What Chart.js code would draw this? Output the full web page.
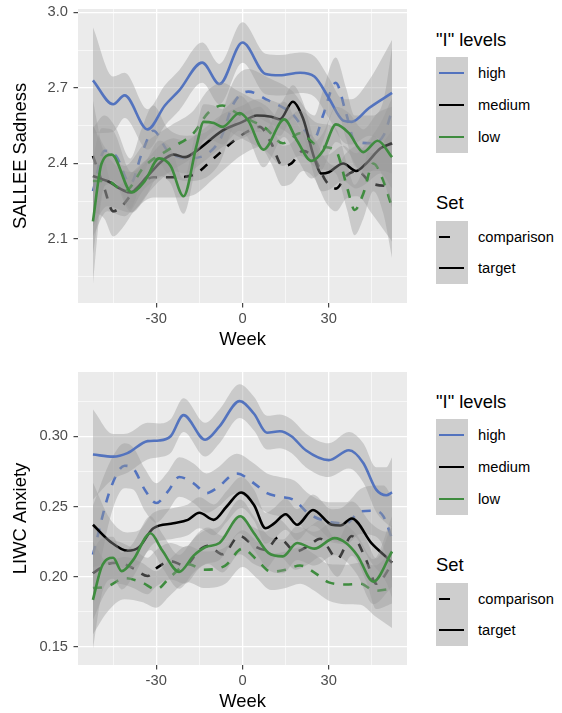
<!DOCTYPE html>
<html><head><meta charset="utf-8">
<script src="https://cdn.jsdelivr.net/npm/chart.js@4.4.1/dist/chart.umd.min.js"></script>
<style>
html,body{margin:0;padding:0;background:#fff;}
#wrap{position:relative;width:562px;height:713px;overflow:hidden;font-family:"Liberation Sans",Arial,Helvetica,sans-serif;}
canvas{position:absolute;left:0;}
.lt{position:absolute;left:436px;font-size:18.4px;line-height:22px;height:22px;color:#000;white-space:nowrap;}
.lb{position:absolute;left:478px;font-size:14.7px;line-height:18px;height:18px;color:#000;white-space:nowrap;}
.kb{position:absolute;left:436px;width:32px;background:#CECECE;}
.kl{position:absolute;height:2.6px;}
</style></head><body><div id="wrap">
<canvas id="c1" width="410" height="356" style="top:0px"></canvas>
<canvas id="c2" width="410" height="357" style="top:356px"></canvas>
</div>
<script>
// ---------- tick values ----------
const weekMajor = [-30, 0, 30];
const weekMinor = [-45, -15, 15, 45];
const sadMajor = [2.1, 2.4, 2.7, 3.0];
const sadMinor = [1.95, 2.25, 2.55, 2.85];
const anxMajor = [0.15, 0.20, 0.25, 0.30];
const anxMinor = [0.175, 0.225, 0.275, 0.325];

const levels = ['high', 'medium', 'low'];
const sets = ['comparison', 'target'];

// ---------- Panel 1: SALLEE Sadness ----------
const sad_high_comparison_wk = [-52,-48,-44,-39,-35,-31,-26,-19,-8,-3,2,9,17,25,28,32.4,36,39,45,49,52];
const sad_high_comparison    = [2.29,2.45,2.43,2.32,2.44,2.53,2.45,2.42,2.49,2.64,2.685,2.65,2.60,2.50,2.59,2.72,2.60,2.49,2.48,2.51,2.61];
const sad_high_comparison_se = [0.25,0.14,0.11,0.1,0.1,0.1,0.09,0.09,0.09,0.09,0.09,0.09,0.09,0.09,0.1,0.1,0.1,0.1,0.11,0.14,0.25];

const sad_high_target_wk = [-52,-45,-41,-33,-27,-22,-14,-8,0,8,13,20,25,30,35,38,44,52];
const sad_high_target    = [2.73,2.635,2.67,2.535,2.63,2.69,2.80,2.715,2.88,2.755,2.75,2.76,2.745,2.66,2.57,2.565,2.62,2.68];
const sad_high_target_se = [0.21,0.11,0.09,0.08,0.08,0.08,0.08,0.08,0.08,0.08,0.08,0.08,0.08,0.08,0.085,0.09,0.11,0.21];

const sad_medium_comparison_wk = [-52,-48,-45,-42,-37,-31,-24,-17,-10,-3,1.5,6,10,14,17,21,25,29,32.5,36,40,45,52];
const sad_medium_comparison    = [2.43,2.30,2.21,2.23,2.30,2.345,2.345,2.355,2.42,2.49,2.525,2.545,2.48,2.39,2.40,2.45,2.42,2.33,2.30,2.35,2.37,2.32,2.31];
const sad_medium_comparison_se = [0.22,0.12,0.1,0.09,0.08,0.08,0.08,0.08,0.08,0.08,0.08,0.08,0.08,0.08,0.08,0.08,0.08,0.085,0.09,0.09,0.1,0.12,0.22];

const sad_medium_target_wk = [-52,-47,-39,-33,-28,-24,-20,-16,-7,0,5,10,13,17.5,21,25,27.5,30,35,39.5,43,48,52];
const sad_medium_target    = [2.35,2.33,2.285,2.35,2.41,2.435,2.425,2.45,2.53,2.565,2.59,2.585,2.575,2.645,2.58,2.42,2.36,2.365,2.40,2.37,2.40,2.46,2.48];
const sad_medium_target_se = [0.2,0.1,0.08,0.07,0.07,0.065,0.065,0.065,0.065,0.065,0.065,0.065,0.065,0.065,0.065,0.07,0.07,0.07,0.07,0.07,0.08,0.1,0.18];

const sad_low_comparison_wk = [-52,-47,-41,-34,-25,-17,-12,-7,-2,3,8,14,20,26,31,33,36.5,39,42,45.5,49,52];
const sad_low_comparison    = [2.33,2.33,2.29,2.39,2.46,2.52,2.60,2.63,2.60,2.57,2.54,2.48,2.52,2.47,2.46,2.44,2.30,2.215,2.28,2.40,2.33,2.225];
const sad_low_comparison_se = [0.22,0.12,0.1,0.09,0.09,0.09,0.09,0.09,0.09,0.09,0.09,0.09,0.09,0.09,0.09,0.09,0.09,0.1,0.1,0.11,0.13,0.2];

const sad_low_target_wk = [-52,-49,-45.5,-38.5,-34,-29,-25,-20.5,-16,-13.5,-10,-7,-1,2,7.3,14.5,19,24,28,32.5,37,42,47,52];
const sad_low_target    = [2.17,2.40,2.435,2.285,2.33,2.42,2.39,2.27,2.47,2.565,2.56,2.545,2.60,2.57,2.455,2.575,2.49,2.41,2.45,2.555,2.52,2.445,2.49,2.425];
const sad_low_target_se = [0.25,0.14,0.1,0.08,0.07,0.07,0.07,0.07,0.07,0.07,0.07,0.07,0.07,0.07,0.07,0.07,0.07,0.07,0.07,0.07,0.08,0.09,0.11,0.2];

// ---------- Panel 2: LIWC Anxiety ----------
const anx_high_comparison_wk = [-52,-46,-41,-38,-34,-30,-26,-22,-17,-12.5,-9,-2,4,8.5,13,18,23,30,36,41,46,49,52];
const anx_high_comparison    = [0.2157,0.262,0.279,0.277,0.262,0.2525,0.2605,0.271,0.2665,0.2595,0.263,0.2735,0.2665,0.2595,0.257,0.2545,0.245,0.239,0.238,0.2465,0.247,0.243,0.227];
const anx_high_comparison_se = [0.035,0.02,0.016,0.015,0.015,0.014,0.014,0.014,0.014,0.014,0.014,0.014,0.014,0.014,0.014,0.014,0.014,0.014,0.015,0.016,0.018,0.022,0.03];

const anx_high_target_wk = [-52,-45,-40,-33,-29,-25,-20.5,-13,-8,-1,4,8.5,13,17,22,30,37,42,46.5,50,52];
const anx_high_target    = [0.287,0.2855,0.288,0.2965,0.297,0.300,0.315,0.2975,0.307,0.325,0.316,0.3025,0.3035,0.300,0.290,0.283,0.290,0.281,0.262,0.258,0.260];
const anx_high_target_se = [0.032,0.016,0.014,0.013,0.012,0.012,0.012,0.012,0.012,0.012,0.012,0.012,0.012,0.012,0.012,0.012,0.013,0.014,0.016,0.02,0.025];

const anx_medium_comparison_wk = [-52,-47,-43,-38,-33,-30,-25,-20,-15,-12,-7,-1,4,8,12.5,18.5,23,27,33,38,43,46.5,52];
const anx_medium_comparison    = [0.2025,0.209,0.210,0.206,0.2005,0.206,0.211,0.208,0.219,0.222,0.216,0.229,0.222,0.219,0.228,0.218,0.222,0.227,0.213,0.229,0.212,0.195,0.209];
const anx_medium_comparison_se = [0.033,0.018,0.015,0.014,0.013,0.013,0.013,0.013,0.013,0.013,0.013,0.013,0.013,0.013,0.013,0.013,0.013,0.013,0.013,0.014,0.015,0.018,0.028];

const anx_medium_target_wk = [-52,-46,-40,-36,-31,-24,-19,-15,-10,-5.5,-0.5,4,8,11,15,19,24.5,31,34,38,45,50,52];
const anx_medium_target    = [0.237,0.225,0.2185,0.221,0.2345,0.238,0.2405,0.2455,0.2405,0.250,0.260,0.251,0.2345,0.238,0.2445,0.237,0.2475,0.237,0.2365,0.2415,0.2235,0.214,0.210];
const anx_medium_target_se = [0.03,0.016,0.013,0.012,0.011,0.011,0.011,0.011,0.011,0.011,0.011,0.011,0.011,0.011,0.011,0.011,0.011,0.011,0.012,0.012,0.014,0.018,0.025];

const anx_low_comparison_wk = [-52,-47,-41,-35,-30,-25,-19,-13.5,-6,0,5,10,15,20,25,30,36,41,46,52];
const anx_low_comparison    = [0.192,0.193,0.199,0.196,0.191,0.200,0.209,0.205,0.208,0.220,0.212,0.2035,0.205,0.208,0.203,0.196,0.1945,0.195,0.190,0.1915];
const anx_low_comparison_se = [0.033,0.018,0.015,0.014,0.013,0.013,0.013,0.013,0.013,0.013,0.013,0.013,0.013,0.013,0.013,0.013,0.014,0.015,0.018,0.028];

const anx_low_target_wk = [-52,-49,-45,-42,-38,-32,-28,-22,-17,-13,-8,-0.8,4,9,14,19,25,32,36,40,45.5,52];
const anx_low_target    = [0.1836,0.207,0.2135,0.204,0.212,0.231,0.219,0.2035,0.215,0.221,0.224,0.243,0.231,0.217,0.2145,0.224,0.220,0.2275,0.224,0.215,0.1965,0.218];
const anx_low_target_se = [0.035,0.02,0.015,0.013,0.012,0.012,0.012,0.012,0.012,0.012,0.012,0.012,0.012,0.012,0.012,0.012,0.012,0.012,0.013,0.014,0.016,0.025];

// ---------- styling ----------
const FONT = '"Liberation Sans", Arial, Helvetica, sans-serif';
const levelColors = {high: '#5373BE', medium: '#000000', low: '#3F8C3F'};
const bandFill = 'rgba(153,153,153,0.4)';

function group(wk, v, se, level, set) {
  return {wk, v, se, color: levelColors[level], dash: set === 'comparison'};
}

const sadGroups = [
  group(sad_high_comparison_wk, sad_high_comparison, sad_high_comparison_se, 'high', 'comparison'),
  group(sad_high_target_wk, sad_high_target, sad_high_target_se, 'high', 'target'),
  group(sad_medium_comparison_wk, sad_medium_comparison, sad_medium_comparison_se, 'medium', 'comparison'),
  group(sad_medium_target_wk, sad_medium_target, sad_medium_target_se, 'medium', 'target'),
  group(sad_low_comparison_wk, sad_low_comparison, sad_low_comparison_se, 'low', 'comparison'),
  group(sad_low_target_wk, sad_low_target, sad_low_target_se, 'low', 'target')
];
const anxGroups = [
  group(anx_high_comparison_wk, anx_high_comparison, anx_high_comparison_se, 'high', 'comparison'),
  group(anx_high_target_wk, anx_high_target, anx_high_target_se, 'high', 'target'),
  group(anx_medium_comparison_wk, anx_medium_comparison, anx_medium_comparison_se, 'medium', 'comparison'),
  group(anx_medium_target_wk, anx_medium_target, anx_medium_target_se, 'medium', 'target'),
  group(anx_low_comparison_wk, anx_low_comparison, anx_low_comparison_se, 'low', 'comparison'),
  group(anx_low_target_wk, anx_low_target, anx_low_target_se, 'low', 'target')
];

function buildDatasets(groups) {
  const ds = [];
  let order = groups.length * 3 + 1;
  groups.forEach(g => {
    const s = i => (g.se[i] !== undefined ? g.se[i] : g.se[g.se.length - 1]);
    ds.push({data: g.wk.map((x, i) => ({x, y: g.v[i] + s(i)})), borderWidth: 0, borderColor: 'rgba(0,0,0,0)',
             pointRadius: 0, fill: '+1', backgroundColor: bandFill, order: order--});
    ds.push({data: g.wk.map((x, i) => ({x, y: g.v[i] - s(i)})), borderWidth: 0, borderColor: 'rgba(0,0,0,0)',
             pointRadius: 0, fill: false, order: order--});
    ds.push({data: g.wk.map((x, i) => ({x, y: g.v[i]})), borderColor: g.color, borderWidth: 2.6,
             borderDash: g.dash ? [9, 9] : [], borderCapStyle: 'butt', pointRadius: 0, fill: false, order: order--});
  });
  return ds;
}

const bgPlugin = {
  id: 'panelBg',
  beforeDraw(chart) {
    const {ctx, chartArea: a} = chart;
    ctx.save();
    ctx.fillStyle = '#EBEBEB';
    ctx.fillRect(a.left, a.top, a.right - a.left, a.bottom - a.top);
    ctx.restore();
  }
};

function makeChart(id, groups, cfg) {
  const xAll = weekMinor.concat(weekMajor).sort((a, b) => a - b);
  const yAll = cfg.yMinor.concat(cfg.yMajor).sort((a, b) => a - b);
  return new Chart(document.getElementById(id), {
    type: 'line',
    data: {datasets: buildDatasets(groups)},
    options: {
      responsive: false, animation: false, events: [],
      layout: {padding: {top: cfg.padTop, right: 3, left: 0, bottom: 0}},
      elements: {line: {cubicInterpolationMode: 'monotone'}, point: {radius: 0}},
      plugins: {legend: {display: false}, tooltip: {enabled: false}},
      scales: {
        x: {
          type: 'linear', min: -57.2, max: 57.2,
          afterBuildTicks: s => { s.ticks = xAll.map(v => ({value: v})); },
          afterFit: s => { s.height = cfg.xH; s.paddingLeft = 0; s.paddingRight = 0; },
          ticks: {autoSkip: false, maxRotation: 0, minRotation: 0, padding: 3, color: '#4D4D4D',
                  font: {family: FONT, size: 14.7},
                  callback: v => (weekMajor.includes(v) ? String(v) : '')},
          grid: {color: '#FFFFFF', lineWidth: c => (c.tick && weekMajor.includes(c.tick.value) ? 1.3 : 0.6),
                 tickColor: c => (c.tick && weekMajor.includes(c.tick.value) ? '#333333' : 'rgba(0,0,0,0)'),
                 tickLength: 4.5, tickWidth: 1.1},
          border: {display: false},
          title: {display: true, text: 'Week', color: '#000', font: {family: FONT, size: 18.4, lineHeight: 1.2},
                  padding: {top: 0, bottom: cfg.xTitlePad}}
        },
        y: {
          type: 'linear', min: cfg.yMin, max: cfg.yMax,
          afterBuildTicks: s => { s.ticks = yAll.map(v => ({value: v})); },
          afterFit: s => { s.width = 78; s.paddingTop = 0; s.paddingBottom = 0; },
          ticks: {autoSkip: false, padding: 5.5, color: '#4D4D4D', font: {family: FONT, size: 14.7},
                  callback: v => (cfg.yMajor.includes(v) ? v.toFixed(cfg.dec) : '')},
          grid: {color: '#FFFFFF', lineWidth: c => (c.tick && cfg.yMajor.includes(c.tick.value) ? 1.3 : 0.6),
                 tickColor: c => (c.tick && cfg.yMajor.includes(c.tick.value) ? '#333333' : 'rgba(0,0,0,0)'),
                 tickLength: 4.5, tickWidth: 1.1},
          border: {display: false},
          title: {display: true, text: cfg.yTitle, color: '#000', font: {family: FONT, size: 18.4, lineHeight: 1.2},
                  padding: {top: 10, bottom: 0}}
        }
      }
    },
    plugins: [bgPlugin]
  });
}

makeChart('c1', sadGroups, {padTop: 9, xH: 53, xTitlePad: 5, yMin: 1.846, yMax: 3.013,
  yMajor: sadMajor, yMinor: sadMinor, dec: 1, yTitle: 'SALLEE Sadness'});
makeChart('c2', anxGroups, {padTop: 16, xH: 48, xTitlePad: 0, yMin: 0.1372, yMax: 0.3457,
  yMajor: anxMajor, yMinor: anxMinor, dec: 2, yTitle: 'LIWC Anxiety'});

// ---------- legends (HTML text) ----------
const wrap = document.getElementById('wrap');
function el(cls, css, text) {
  const d = document.createElement('div');
  d.className = cls;
  Object.assign(d.style, css);
  if (text !== undefined) d.textContent = text;
  wrap.appendChild(d);
  return d;
}
function legend(off) {
  el('lt', {top: (40 - 11 + off) + 'px'}, '"I" levels');
  el('kb', {top: (57 + off) + 'px', height: '96px'});
  levels.forEach((lv, i) => {
    const cy = 73 + i * 32 + off;
    el('kl', {top: (cy - 1.3) + 'px', left: '439px', width: '25px', background: levelColors[lv]});
    el('lb', {top: (cy - 9) + 'px'}, lv);
  });
  el('lt', {top: (203 - 11 + off) + 'px'}, 'Set');
  el('kb', {top: (221 + off) + 'px', height: '63px'});
  sets.forEach((st, i) => {
    const cy = 237 + i * 31 + off;
    el('kl', {top: (cy - 1.3) + 'px', left: '439px', width: (st === 'comparison' ? 11 : 25) + 'px', background: '#000'});
    el('lb', {top: (cy - 9) + 'px'}, st);
  });
}
legend(0);
legend(362);
</script>
</body></html>
